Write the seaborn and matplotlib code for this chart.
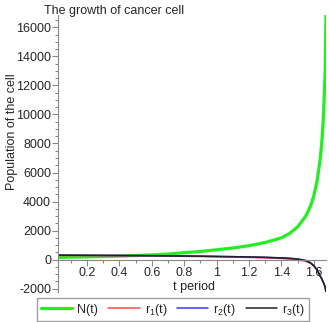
import numpy as np
import pandas as pd
import matplotlib
matplotlib.use("Agg")
import matplotlib.pyplot as plt
import seaborn as sns
from matplotlib.ticker import MultipleLocator, FixedLocator

# values
t = [0.0, 0.1, 0.2, 0.3, 0.4, 0.5, 0.6, 0.7, 0.8, 0.9, 1.0, 1.1, 1.2, 1.3, 1.4,
     1.45, 1.5, 1.55, 1.58, 1.6, 1.62, 1.64, 1.65, 1.66, 1.67, 1.675]
n_t = [150, 170, 190, 215, 245, 280, 325, 385, 480, 560, 680, 800, 960, 1180, 1500,
       1800, 2250, 3000, 3700, 4400, 5400, 7000, 8200, 10000, 13000, 16900]
r1_t = [290, 285, 280, 272, 265, 256, 246, 236, 224, 210, 193, 174, 150, 120, 75,
        40, -10, -110, -260, -450, -720, -1150, -1350, -1600, -1900, -2250]
r2_t = [305, 300, 295, 290, 283, 275, 267, 257, 246, 234, 218, 201, 181, 155, 115,
        85, 40, -65, -225, -425, -705, -1150, -1350, -1600, -1900, -2250]
r3_t = [310, 305, 300, 295, 288, 280, 272, 262, 250, 238, 222, 205, 185, 160, 120,
        90, 45, -60, -220, -420, -700, -1150, -1350, -1600, -1900, -2250]
labels = ["N(t)", "r$_1$(t)", "r$_2$(t)", "r$_3$(t)"]
colors = ["#22ee22", "#ff4848", "#3838ff", "#222222"]
widths = [2.3, 1.1, 1.1, 1.1]
x_ticks = [0.2, 0.4, 0.6, 0.8, 1.0, 1.2, 1.4, 1.6]
x_tick_labels = ["0.2", "0.4", "0.6", "0.8", "1", "1.2", "1.4", "1.6"]
y_ticks = [-2000, 0, 2000, 4000, 6000, 8000, 10000, 12000, 14000, 16000]

sns.set_style("white")
plt.rcParams["font.family"] = ["Liberation Sans", "DejaVu Sans"]
plt.rcParams["mathtext.fontset"] = "custom"
plt.rcParams["mathtext.rm"] = "Liberation Sans"

fig = plt.figure(figsize=(3.29, 3.22), dpi=100)
ax = fig.add_axes([58 / 329, 1 - 292 / 322, 268 / 329, 277 / 322])

series = [n_t, r1_t, r2_t, r3_t]
for vals, lab, col, lw in zip(series, labels, colors, widths):
    df = pd.DataFrame({"t": t, "v": vals})
    sns.lineplot(data=df, x="t", y="v", ax=ax, color=col, linewidth=lw, label=lab)

ax.set_xlim(0.021, 1.675)
ax.set_ylim(-2230, 16850)

gray = "#888888"
for s in ["top", "right"]:
    ax.spines[s].set_visible(False)
ax.spines["bottom"].set_position(("data", 0))
ax.spines["bottom"].set_color(gray)
ax.spines["left"].set_color(gray)

ax.xaxis.set_major_locator(FixedLocator(x_ticks))
ax.set_xticklabels(x_tick_labels)
ax.xaxis.set_minor_locator(MultipleLocator(0.1))
ax.yaxis.set_major_locator(FixedLocator(y_ticks))
ax.set_yticklabels([str(v) for v in y_ticks])
ax.yaxis.set_minor_locator(MultipleLocator(500))
ax.tick_params(axis="both", which="major", length=4, width=0.8, color=gray,
               labelsize=9, pad=1, bottom=True, left=True)
ax.tick_params(axis="both", which="minor", length=2.5, width=0.8, color=gray,
               bottom=True, left=True)
ax.set_xlabel("")
ax.set_ylabel("")

fig.text(44 / 329, 1 - 11 / 322, "The growth of cancer cell", fontsize=9,
         ha="left", va="center")
fig.text(194 / 329, 1 - 287 / 322, "t period", fontsize=9, ha="center", va="center")
fig.text(12 / 329, 1 - 132 / 322, "Population of the cell", fontsize=9,
         rotation=90, ha="center", va="center")

ax.get_legend().remove()
handles, labs = ax.get_legend_handles_labels()
leg = fig.legend(handles, labs, loc="center", bbox_to_anchor=(173 / 329, 1 - 309.5 / 322),
                 ncol=4, fontsize=9, frameon=True, fancybox=False,
                 handlelength=2.5, columnspacing=0.8, handletextpad=0.4,
                 borderpad=0.3, borderaxespad=0)
leg.get_frame().set_edgecolor(gray)
leg.get_frame().set_linewidth(1.0)

fig.savefig("out.png", dpi=100)
